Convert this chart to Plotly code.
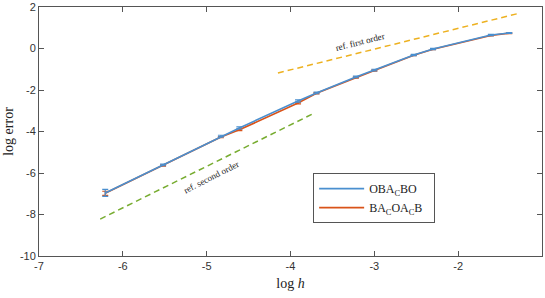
import plotly.graph_objects as go

log_h = [-6.21, -5.52, -4.83, -4.61, -3.91, -3.69, -3.22, -3.00, -2.53, -2.30, -1.61, -1.39]
err_oba = [-6.96, -5.61, -4.22, -3.83, -2.53, -2.14, -1.37, -1.04, -0.31, -0.02, 0.65, 0.75]
err_ba = [-6.98, -5.64, -4.27, -3.92, -2.63, -2.16, -1.40, -1.06, -0.33, -0.04, 0.63, 0.74]
sd_oba = [0.17, 0.04, 0.04, 0.05, 0.05, 0.04, 0.04, 0.04, 0.03, 0.03, 0.03, 0.02]
sd_ba = [0.10, 0.03, 0.03, 0.04, 0.04, 0.03, 0.03, 0.03, 0.02, 0.02, 0.02, 0.02]

ref1_x = [-4.15, -1.28]
ref1_y = [-1.18, 1.69]
ref2_x = [-6.27, -3.72]
ref2_y = [-8.22, -3.12]

x_ticks = [-7, -6, -5, -4, -3, -2, -1]
x_ticktext = ["-7", "-6", "-5", "-4", "-3", "-2", "-1"]
y_ticks = [-10, -8, -6, -4, -2, 0, 2]
y_ticktext = ["-10", "-8", "-6", "-4", "-2", "0", "2"]

blue = "#4A8FCF"
orange = "#D95319"
serif = "Liberation Serif"

fig = go.Figure()
fig.add_trace(go.Scatter(x=ref1_x, y=ref1_y, mode="lines", showlegend=False,
                         line=dict(color="#EDB120", width=1.5, dash="6px,4px")))
fig.add_trace(go.Scatter(x=ref2_x, y=ref2_y, mode="lines", showlegend=False,
                         line=dict(color="#77AC30", width=1.5, dash="6px,4px")))
fig.add_trace(go.Scatter(x=log_h, y=err_ba, mode="lines", name="BA<sub>C</sub>OA<sub>C</sub>B  ",
                         legendrank=2,
                         line=dict(color=orange, width=1.6),
                         error_y=dict(type="data", array=sd_ba, color=orange, width=3, thickness=1.2)))
fig.add_trace(go.Scatter(x=log_h, y=err_oba, mode="lines", name="OBA<sub>C</sub>BO",
                         legendrank=1,
                         line=dict(color=blue, width=1.6),
                         error_y=dict(type="data", array=sd_oba, color=blue, width=3, thickness=1.2)))

fig.add_annotation(x=-3.17, y=0.3, text="ref. first order", showarrow=False, textangle=-14,
                   font=dict(family=serif, size=9, color="#222"))
fig.add_annotation(x=-4.94, y=-6.2, text="ref. second order", showarrow=False, textangle=-27,
                   font=dict(family=serif, size=9, color="#222"))

axis_common = dict(showgrid=False, zeroline=False, showline=True, mirror="ticks",
                   linecolor="#555", linewidth=1, ticks="inside", ticklen=5,
                   tickcolor="#555", automargin=False,
                   tickfont=dict(family="Liberation Sans", size=11, color="#333"))
fig.update_xaxes(range=[-7, -1], tickvals=x_ticks, ticktext=x_ticktext,
                 title=dict(text="log <i>h</i>", standoff=6,
                            font=dict(family=serif, size=14, color="#222")), **axis_common)
fig.update_yaxes(range=[-10, 2], tickvals=y_ticks, ticktext=y_ticktext,
                 title=dict(text="log error", standoff=2,
                            font=dict(family=serif, size=14, color="#222")), **axis_common)

fig.update_layout(
    width=545, height=298,
    margin=dict(l=39, r=3, t=7, b=42),
    plot_bgcolor="white", paper_bgcolor="white",
    legend=dict(x=0.545, y=0.333, xanchor="left", yanchor="top",
                bordercolor="#555", borderwidth=1, bgcolor="white",
                font=dict(family=serif, size=12, color="#222"),
                itemwidth=45, tracegroupgap=2),
)
fig.write_html("out.html", config={"displayModeBar": False},
               post_script="document.body.style.margin='0';document.body.style.overflow='hidden';")
